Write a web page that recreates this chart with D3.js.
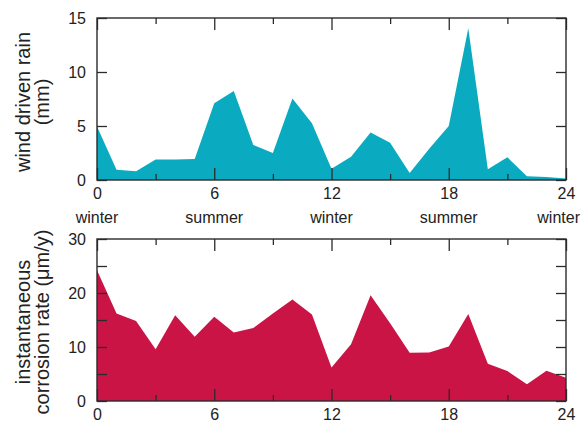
<!DOCTYPE html>
<html>
<head>
<meta charset="utf-8">
<script src="https://cdn.jsdelivr.net/npm/d3@7"></script>
<style>
  html, body { margin: 0; padding: 0; background: #fff; }
  svg { display: block; }
  text { font-family: "Liberation Sans", Arial, Helvetica, sans-serif; }
</style>
</head>
<body>
<svg id="chart" width="581" height="426"></svg>
<script>
// ---- data ----
const months = d3.range(0, 25);
const rainValues = [4.95, 0.95, 0.8, 1.9, 1.9, 1.95, 7.1, 8.25, 3.25, 2.5, 7.55, 5.25, 1.05,
                    2.15, 4.4, 3.45, 0.65, 2.9, 5.0, 14.05, 1.0, 2.1, 0.35, 0.27, 0.15];
const corrosionValues = [24.2, 16.2, 14.8, 9.6, 15.9, 11.9, 15.6, 12.7, 13.5, 16.2, 18.8, 16.0, 6.2,
                         10.5, 19.6, 14.4, 8.95, 9.0, 10.1, 16.1, 6.9, 5.55, 3.1, 5.6, 4.3];
const xTicksMajor = [0, 6, 12, 18, 24];
const xTicksMinor = [3, 9, 15, 21];
const seasonLabels = ["winter", "summer", "winter", "summer", "winter"];
const rainTicks = [0, 5, 10, 15];
const corrosionTicks = [0, 5, 10, 15, 20, 25, 30];
const corrosionTickLabels = [0, 10, 20, 30];
const rainTitle = ["wind driven rain", "(mm)"];
const corrosionTitle = ["instantaneous", "corrosion rate (\u03bcm/y)"];

// ---- layout ----
const W = 581;
const svg = d3.select("#chart");
const axisColor = "#2b2b2b";
const textColor = "#222";
const x = d3.scaleLinear().domain([0, 24]).range([97, 566]);

function panel(opts) {
  const { values, yDomain, yRange, yTicks, yLabels, fill, title, titleCenter } = opts;
  const y = d3.scaleLinear().domain(yDomain).range(yRange);
  const g = svg.append("g");

  const area = d3.area()
    .x((d, i) => x(months[i]))
    .y0(y(yDomain[0]))
    .y1(d => y(d));
  g.append("path").datum(values).attr("d", area).attr("fill", fill);

  const top = yRange[1], bottom = yRange[0];

  g.append("g").attr("transform", `translate(0,${bottom})`)
    .call(d3.axisBottom(x).tickValues(xTicksMajor).tickSizeInner(-12).tickSizeOuter(0).tickPadding(8).tickFormat(d3.format("d")));
  g.append("g").attr("transform", `translate(0,${bottom})`)
    .call(d3.axisBottom(x).tickValues(xTicksMinor).tickSizeInner(-6).tickSizeOuter(0).tickFormat(""));
  g.append("g").attr("transform", `translate(0,${top})`)
    .call(d3.axisTop(x).tickValues(xTicksMajor).tickSizeInner(-12).tickSizeOuter(0).tickFormat(""));
  g.append("g").attr("transform", `translate(0,${top})`)
    .call(d3.axisTop(x).tickValues(xTicksMinor).tickSizeInner(-6).tickSizeOuter(0).tickFormat(""));

  g.append("g").attr("transform", `translate(${x(0)},0)`)
    .call(d3.axisLeft(y).tickValues(yTicks).tickSizeInner(-10).tickSizeOuter(0).tickPadding(11)
      .tickFormat(d => yLabels.includes(d) ? d3.format("d")(d) : ""));
  g.append("g").attr("transform", `translate(${x(24)},0)`)
    .call(d3.axisRight(y).tickValues(yTicks).tickSizeInner(-10).tickSizeOuter(0).tickFormat(""));

  g.append("rect")
    .attr("x", x(0)).attr("y", top)
    .attr("width", x(24) - x(0)).attr("height", bottom - top)
    .attr("fill", "none").attr("stroke", axisColor).attr("stroke-width", 1.4);

  g.selectAll(".domain").remove();
  g.selectAll(".tick line").attr("stroke", axisColor).attr("stroke-width", 1.3);
  g.selectAll(".tick text").attr("fill", textColor).style("font-size", "16px")
    .style("font-family", "'Liberation Sans', Arial, Helvetica, sans-serif");

  const t = g.append("text")
    .attr("transform", `translate(0,${titleCenter}) rotate(-90)`)
    .attr("text-anchor", "middle")
    .attr("fill", textColor)
    .style("font-size", "20px");
  t.append("tspan").attr("x", 0).attr("y", 30).text(title[0]);
  t.append("tspan").attr("x", 0).attr("y", 49).text(title[1]);
  return { g, y, bottom };
}

panel({
  values: rainValues, yDomain: [0, 15], yRange: [180, 18],
  yTicks: rainTicks, yLabels: rainTicks, fill: "#0aabc1",
  title: rainTitle, titleCenter: 102
});

// season labels under top panel (kept inside the picture)
svg.append("g").selectAll("text")
  .data(xTicksMajor)
  .join("text")
  .attr("y", 223)
  .attr("text-anchor", "middle")
  .attr("fill", textColor)
  .style("font-size", "16px")
  .text((d, i) => seasonLabels[i])
  .attr("x", function(d) {
    const half = this.getComputedTextLength() / 2;
    return Math.max(half + 1, Math.min(W - half - 1, x(d)));
  });

panel({
  values: corrosionValues, yDomain: [0, 30], yRange: [401, 239],
  yTicks: corrosionTicks, yLabels: corrosionTickLabels, fill: "#cb1446",
  title: corrosionTitle, titleCenter: 322
});
</script>
</body>
</html>
